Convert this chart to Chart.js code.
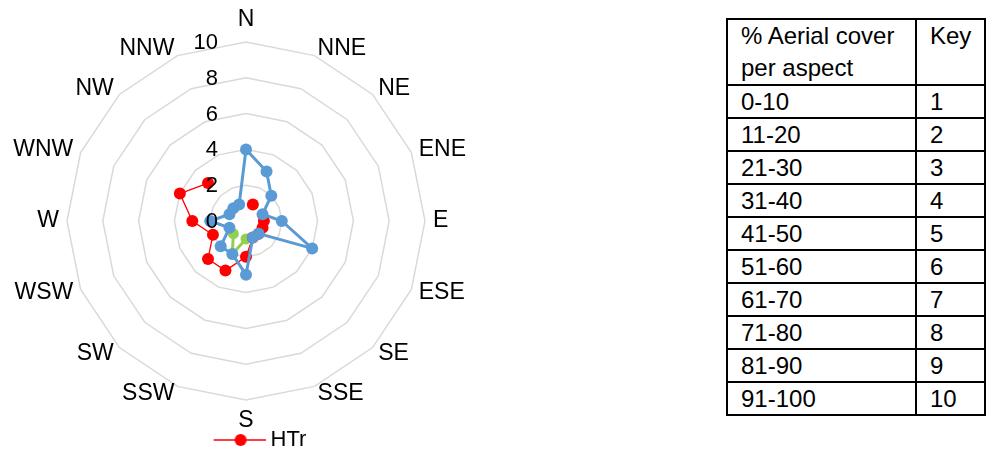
<!DOCTYPE html>
<html>
<head>
<meta charset="utf-8">
<script src="https://cdn.jsdelivr.net/npm/chart.js@4.4.1/dist/chart.umd.min.js"></script>
<style>
  html, body { margin: 0; padding: 0; background: #fff; overflow: hidden; }
  #wrap { position: absolute; left: 0; top: 0; width: 492px; height: 461px; }
  #key {
    position: absolute; left: 726px; top: 18px;
    border-collapse: collapse; table-layout: fixed; width: 258px;
    font-family: "Liberation Sans", Arial, sans-serif; font-size: 24px; color: #000;
  }
  #key td { border: 2px solid #000; padding: 0 0 0 13px; height: 31px; line-height: 31px; vertical-align: middle; }
  #key tr.head td { height: 62px; line-height: 32px; vertical-align: top; }
</style>
</head>
<body>
<div id="wrap"><canvas id="radar-chart"></canvas></div>
<table id="key">
  <colgroup><col style="width:189px"><col style="width:69px"></colgroup>
  <tbody id="key-body"></tbody>
</table>
<script>
// aspects round the compass, clockwise from N
const aspects = ["N", "NNE", "NE", "ENE", "E", "ESE", "SE", "SSE", "S", "SSW", "SW", "WSW", "W", "WNW", "NW", "NNW"];
// cover key per aspect (null = not recorded)
const blueSeries  = [4, 3, 2, 1, 2, 4, 1, 1, 3, 2, 2, 1, 2, 1, 1, 1];
const htrSeries   = [null, 1, null, null, 1, 1, 1, 1, 2, 3, 3, 2, 3, 4, 3, null];
const greenSeries = [null, null, null, null, null, null, null, null, 1, 2, 1, null, null, null, null, null];
const scaleMax = 10;
const scaleStep = 2;

// key table
const coverRanges = ["0-10", "11-20", "21-30", "31-40", "41-50", "51-60", "61-70", "71-80", "81-90", "91-100"];
const coverKeys = [1, 2, 3, 4, 5, 6, 7, 8, 9, 10];

const FONT = '"Liberation Sans", Arial, sans-serif';

// build the key table
const tbody = document.getElementById("key-body");
let html = '<tr class="head"><td>% Aerial cover<br>per aspect</td><td>Key</td></tr>';
coverRanges.forEach(function (r, i) {
    html += "<tr><td>" + r + "</td><td>" + coverKeys[i] + "</td></tr>";
});
tbody.innerHTML = html;

// legend icon: line with a dot, like the spreadsheet legend
function legendIcon() {
    const c = document.createElement("canvas");
    c.width = 86;
    c.height = 14;
    const g = c.getContext("2d");
    g.strokeStyle = "#FF0000";
    g.lineWidth = 1.3;
    g.beginPath();
    g.moveTo(34, 7);
    g.lineTo(86, 7);
    g.stroke();
    g.fillStyle = "#FF0000";
    g.beginPath();
    g.arc(61, 7, 6, 0, Math.PI * 2);
    g.fill();
    return c;
}
const htrIcon = legendIcon();

// aspect names and value ticks, placed with the radial scale
const labelPlugin = {
    id: "aspectLabels",
    afterDatasetsDraw(chart) {
        const s = chart.scales.r;
        const ctx = chart.ctx;
        ctx.save();
        ctx.fillStyle = "#000";
        ctx.textBaseline = "middle";
        ctx.font = "23px " + FONT;
        aspects.forEach(function (lab, i) {
            const p = s.getPointPosition(i, s.drawingArea + 8);
            const deg = i * 360 / aspects.length;
            let y = p.y;
            if (deg === 0) {
                ctx.textAlign = "center";
                y -= 14;
            } else if (deg === 180) {
                ctx.textAlign = "center";
                y += 13;
            } else {
                ctx.textAlign = deg < 180 ? "left" : "right";
            }
            ctx.fillText(lab, p.x, y);
        });
        ctx.font = "22px " + FONT;
        ctx.textAlign = "right";
        s.ticks.forEach(function (t) {
            const y = s.yCenter - s.getDistanceFromCenterForValue(t.value);
            ctx.fillText(t.label, s.xCenter - 28, y + 1);
        });
        ctx.restore();
    }
};

const ctx = document.getElementById("radar-chart").getContext("2d");
const radarChart = new Chart(ctx, {
    type: "radar",
    data: {
        labels: aspects,
        datasets: [{
            label: "Series 1",
            data: blueSeries,
            borderColor: "#5B9BD5",
            backgroundColor: "#5B9BD5",
            borderWidth: 3,
            fill: false,
            pointRadius: 6,
            pointBorderWidth: 0,
            pointBackgroundColor: "#5B9BD5"
        }, {
            label: "HTr",
            data: htrSeries,
            borderColor: "#FF0000",
            backgroundColor: "#FF0000",
            borderWidth: 1.3,
            fill: false,
            pointRadius: 6,
            pointBorderWidth: 0,
            pointBackgroundColor: "#FF0000"
        }, {
            label: "Series 3",
            data: greenSeries,
            borderColor: "#92D050",
            backgroundColor: "#92D050",
            borderWidth: 3,
            fill: false,
            pointRadius: 5.5,
            pointBorderWidth: 0,
            pointBackgroundColor: "#92D050"
        }]
    },
    options: {
        responsive: true,
        maintainAspectRatio: false,
        animation: false,
        layout: { padding: { left: 67, right: 67, top: 23, bottom: 0 } },
        scales: {
            r: {
                min: 0,
                max: scaleMax,
                ticks: { stepSize: scaleStep, display: false },
                grid: { color: "#D9D9D9", lineWidth: 1.5 },
                angleLines: { display: false },
                pointLabels: { display: false }
            }
        },
        plugins: {
            tooltip: { enabled: false },
            legend: {
                position: "bottom",
                labels: {
                    color: "#000",
                    font: { size: 22, family: FONT },
                    usePointStyle: true,
                    pointStyleWidth: 74,
                    generateLabels: function (chart) {
                        const ds = chart.data.datasets[1];
                        return [{
                            text: ds.label,
                            fontColor: "#000",
                            pointStyle: htrIcon,
                            lineWidth: 0,
                            strokeStyle: "transparent",
                            fillStyle: "transparent",
                            datasetIndex: 1
                        }];
                    }
                }
            }
        }
    },
    plugins: [labelPlugin]
});
</script>
</body>
</html>
